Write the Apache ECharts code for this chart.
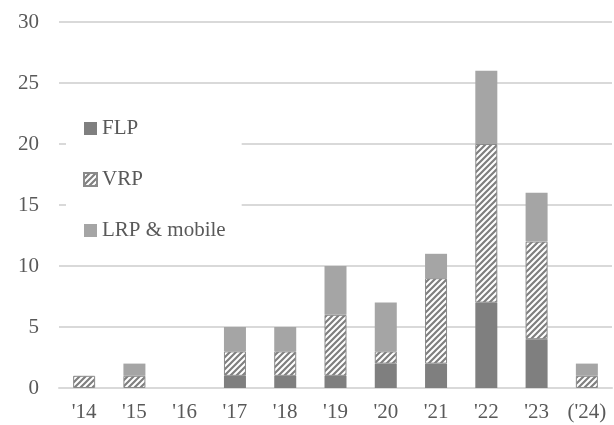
<!DOCTYPE html>
<html><head><meta charset="utf-8">
<script src="https://cdn.jsdelivr.net/npm/echarts@6/dist/echarts.min.js"></script>
<style>html,body{margin:0;padding:0;background:#fff}#c{width:614px;height:425px}</style>
</head><body><div id="c"></div>
<script>
const categories = ["'14","'15","'16","'17","'18","'19","'20","'21","'22","'23","('24)"];
const flp = [0,0,0,1,1,1,2,2,7,4,0];
const vrp = [1,1,0,2,2,5,1,7,13,8,1];
const lrp = [0,1,0,2,2,4,4,2,6,4,1];
const yTicks = [0,5,10,15,20,25,30];

function hatch(){
  const c = document.createElement('canvas');
  c.width = 6; c.height = 6;
  const g = c.getContext('2d');
  g.fillStyle = '#ffffff'; g.fillRect(0,0,6,6);
  g.strokeStyle = '#7f7f7f'; g.lineWidth = 2.2;
  g.beginPath();
  g.moveTo(-1,7); g.lineTo(7,-1);
  g.moveTo(-4,4); g.lineTo(4,-4);
  g.moveTo(2,10); g.lineTo(10,2);
  g.stroke();
  return c;
}
const nz = a => a.map(v => v === 0 ? '-' : v);
const font = 'Liberation Serif';
const chart = echarts.init(document.getElementById('c'));
chart.setOption({
  animation:false,
  backgroundColor:'#fff',
  textStyle:{fontFamily:font},
  grid:{left:59,right:2,top:22,bottom:37},
  legend:{
    orient:'vertical', left:66, top:110,
    backgroundColor:'#fff',
    padding:[8,16,8,17],
    itemWidth:13, itemHeight:13, itemGap:30,
    icon:'rect',
    textStyle:{fontFamily:font,fontSize:21,color:'#595959'},
    data:['FLP','VRP','LRP & mobile']
  },
  xAxis:{
    type:'category', data:categories,
    axisLine:{lineStyle:{color:'#d9d9d9',width:2}},
    axisTick:{show:false},
    axisLabel:{interval:0,fontFamily:font,fontSize:21,color:'#595959',margin:14}
  },
  yAxis:{
    type:'value', min:yTicks[0], max:yTicks[yTicks.length-1], interval:5,
    axisLine:{show:false}, axisTick:{show:false},
    splitLine:{lineStyle:{color:'#d9d9d9',width:2}},
    axisLabel:{fontFamily:font,fontSize:21,color:'#595959',margin:20}
  },
  series:[
    {name:'FLP',type:'bar',stack:'a',data:nz(flp),barWidth:22,itemStyle:{color:'#7f7f7f'}},
    {name:'VRP',type:'bar',stack:'a',data:nz(vrp),barWidth:22,itemStyle:{color:{image:hatch(),repeat:'repeat'},borderColor:'#8a8a8a',borderWidth:1}},
    {name:'LRP & mobile',type:'bar',stack:'a',data:nz(lrp),barWidth:22,itemStyle:{color:'#a5a5a5'}}
  ]
});
</script></body></html>
